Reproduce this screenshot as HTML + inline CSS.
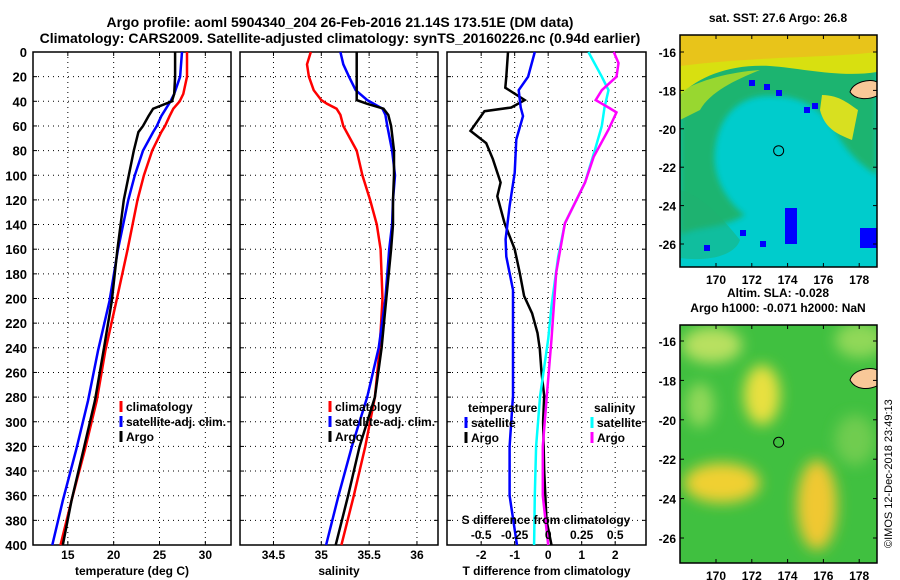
<!DOCTYPE html>
<html><head><meta charset="utf-8"><style>
body{margin:0;background:#fff;}
svg{display:block;font-family:"Liberation Sans",sans-serif;font-weight:bold;}
</style></head><body>
<svg id="c" width="900" height="580" xmlns="http://www.w3.org/2000/svg">
<defs>
<filter id="bl" x="-50%" y="-50%" width="200%" height="200%"><feGaussianBlur stdDeviation="7"/></filter>
<filter id="bl2"><feGaussianBlur stdDeviation="3"/></filter>
<clipPath id="m1c"><rect x="680" y="35" width="197" height="232"/></clipPath>
<clipPath id="m2c"><rect x="680" y="325" width="197" height="238"/></clipPath>
</defs>
<text x="340" y="27" font-size="14" text-anchor="middle">Argo profile: aoml 5904340_204 26-Feb-2016 21.14S 173.51E (DM data)</text>
<text x="340" y="43" font-size="14" text-anchor="middle">Climatology: CARS2009. Satellite-adjusted climatology: synTS_20160226.nc (0.94d earlier)</text>
<g id="plots"></g>
<g id="maps"></g>
<text transform="translate(892,548) rotate(-90)" font-size="11" font-weight="normal">©IMOS 12-Dec-2018 23:49:13</text>
</svg>
<script>
const depthTicks=[0,20,40,60,80,100,120,140,160,180,200,220,240,260,280,300,320,340,360,380,400];
// temperature
const tD=[0,20,34,40,46,52,60,65,80,100,120,161,202,242,283,323,364,400];
const tClim=[28.0,28.0,27.6,27.2,26.5,26.1,25.6,25.2,24.2,23.3,22.6,21.5,20.3,19.1,18.15,16.85,15.4,14.2];
const tSat=[27.45,27.25,26.6,26.2,25.7,25.2,24.7,24.3,23.2,22.3,21.6,20.45,19.55,18.3,17.2,15.9,14.45,13.3];
const tArgo=[26.7,26.7,26.6,26.35,24.3,23.8,23.2,22.7,22.2,21.65,21.1,20.4,19.8,18.9,17.95,16.7,15.4,14.45];
// salinity
const sD=[0,10,20,31,39,42,46,51,60,80,100,120,140,160,200,240,280,320,360,400];
const sClim=[34.89,34.85,34.87,34.92,35.0,35.06,35.16,35.2,35.23,35.37,35.43,35.51,35.58,35.62,35.64,35.61,35.56,35.46,35.34,35.21];
const sSat=[35.2,35.23,35.29,35.36,35.48,35.55,35.64,35.67,35.69,35.74,35.77,35.75,35.74,35.71,35.67,35.6,35.48,35.32,35.18,35.05];
const sArgo=[35.37,35.37,35.37,35.37,35.37,35.48,35.65,35.7,35.73,35.76,35.76,35.75,35.75,35.73,35.68,35.63,35.56,35.4,35.28,35.15];
// differences
const dTArgoD=[0,20,29,39,45,48,64,74,87,106,117,139,160,179,198,212,228,241,260,279,300,340,380,400];
const dTArgo=[-1.2,-1.25,-1.28,-0.7,-1.1,-1.9,-2.32,-1.85,-1.65,-1.42,-1.52,-1.3,-1.0,-0.85,-0.72,-0.48,-0.32,-0.25,-0.2,-0.12,-0.15,-0.12,-0.05,0.1];
const dTSatD=[0,20,31,45,52,71,98,125,152,166,193,233,279,320,360,400];
const dTSat=[-0.4,-0.6,-0.88,-0.82,-0.75,-0.95,-1.0,-1.15,-1.27,-1.25,-1.05,-1.05,-1.05,-1.15,-1.15,-0.93];
const dSSatD=[0,20,31,45,60,79,106,139,166,206,233,279,320,360,400];
const dSSat=[0.3,0.4,0.45,0.42,0.40,0.35,0.275,0.125,0.075,0.025,0,-0.06,-0.09,-0.1,-0.105];
const dSArgoD=[0,9,20,31,39,45,49,63,85,106,139,179,233,279,320,360,400];
const dSArgo=[0.49,0.525,0.51,0.4,0.355,0.45,0.51,0.45,0.34,0.275,0.125,0.06,0.025,-0.01,-0.04,-0.04,0.0];

const NS="http://www.w3.org/2000/svg";
const g=document.getElementById('plots');
function el(t,a,p){const e=document.createElementNS(NS,t);for(const k in a)e.setAttribute(k,a[k]);(p||g).appendChild(e);return e;}
const Y0=52,Y1=545;
const yS=d=>Y0+(d/400)*(Y1-Y0);
const panels=[
 {x0:33,x1:231,lo:11.2,hi:32.8,ticks:[15,20,25,30],lab:'temperature (deg C)',name:'temperature'},
 {x0:240,x1:438,lo:34.15,hi:36.22,ticks:[34.5,35,35.5,36],lab:'salinity',name:'salinity'},
 {x0:447,x1:646,lo:-3.02,hi:2.92,ticks:[-2,-1,0,1,2],lab:'T difference from climatology',name:'difference'}];
panels.forEach((p,i)=>{
 p.x=v=>p.x0+(v-p.lo)/(p.hi-p.lo)*(p.x1-p.x0);
 const pg=el('g',{});
 
 
 depthTicks.forEach(d=>{
  const l=el('line',{x1:p.x0,x2:p.x1,y1:yS(d),y2:yS(d),stroke:'#000','stroke-width':1,'stroke-dasharray':'1,4'},pg);
  
  
  el('line',{x1:p.x0,x2:p.x0+4,y1:yS(d),y2:yS(d),stroke:'#000'},pg);
  el('line',{x1:p.x1,x2:p.x1-4,y1:yS(d),y2:yS(d),stroke:'#000'},pg);
  if(i==0){const t=el('text',{x:p.x0-6,y:yS(d)+5,'font-size':13,'text-anchor':'end'},pg);t.textContent=d;
   }
 });
 p.ticks.forEach(v=>{
  const xx=p.x(v);
  const l=el('line',{x1:xx,x2:xx,y1:Y0,y2:Y1,stroke:'#000','stroke-dasharray':'1,4'},pg);
  
  
  el('line',{x1:xx,x2:xx,y1:Y1,y2:Y1-4,stroke:'#000'},pg);
  el('line',{x1:xx,x2:xx,y1:Y0,y2:Y0+4,stroke:'#000'},pg);
  const t=el('text',{x:xx,y:559,'font-size':12,'text-anchor':'middle'},pg);t.textContent=v;
  
 });
 const r=el('rect',{x:p.x0,y:Y0,width:p.x1-p.x0,height:Y1-Y0,fill:'none',stroke:'#000','stroke-width':1.5},pg);
 
 const t=el('text',{x:(p.x0+p.x1)/2,y:575,'font-size':12,'text-anchor':'middle'},pg);t.textContent=p.lab;
 
});
function line(p,ds,vs,col,name,scale){
 const pts=ds.map((d,i)=>p.x(vs[i]*(scale||1)).toFixed(1)+','+yS(d).toFixed(1)).join(' ');
 const e=el('polyline',{points:pts,fill:'none',stroke:col,'stroke-width':2.5});
 
 
}
const[P1,P2,P3]=panels;
line(P1,tD,tClim,'#f00','temp-climatology-line');
line(P1,tD,tSat,'#00f','temp-satellite-line');
line(P1,tD,tArgo,'#000','temp-argo-line');
line(P2,sD,sClim,'#f00','sal-climatology-line');
line(P2,sD,sSat,'#00f','sal-satellite-line');
line(P2,sD,sArgo,'#000','sal-argo-line');
line(P3,dTArgoD,dTArgo,'#000','tdiff-argo-line');
line(P3,dTSatD,dTSat,'#00f','tdiff-satellite-line');
line(P3,dSSatD,dSSat,'#0ff','sdiff-satellite-line',4);
line(P3,dSArgoD,dSArgo,'#f0f','sdiff-argo-line',4);
const sTicks=[-0.5,-0.25,0,0.25,0.5];
const sg=el('g',{});


const st=el('text',{x:546,y:524,'font-size':12,'text-anchor':'middle'},sg);st.textContent='S difference from climatology';
sTicks.forEach(v=>{const t=el('text',{x:P3.x(v*4),y:539,'font-size':12,'text-anchor':'middle'},sg);t.textContent=v;
 });
function legend(x,y,items,title){
 const lg=el('g',{});
 
 
 if(title){const t=el('text',{x:x,y:y,'font-size':12},lg);t.textContent=title;y+=15;}
 items.forEach(([c,s])=>{
  el('line',{x1:x-2,x2:x-2,y1:y-10,y2:y+1,stroke:c,'stroke-width':3},lg);
  const t=el('text',{x:x+3,y:y,'font-size':12},lg);t.textContent=s;
  
  y+=15;});
}
legend(123,411,[['#f00','climatology'],['#00f','satellite-adj. clim.'],['#000','Argo']]);
legend(332,411,[['#f00','climatology'],['#00f','satellite-adj. clim.'],['#000','Argo']]);
legend(468,412,[['#00f','satellite'],['#000','Argo']],'temperature');
legend(594,412,[['#0ff','satellite'],['#f0f','Argo']],'salinity');

// maps
const mg=document.getElementById('maps');
function m(t,a,p){return el(t,a,p||mg);}
const lonTicks=[170,172,174,176,178];
const latTicks=[-16,-18,-20,-22,-24,-26];
const lonX=l=>716+(l-170)*17.9;
function mapFrame(y0,h,lat16,lat26,title1,title2,name){
 const fg=m('g',{});
 
 
 const ly=l=>lat16+(-16-l)/10*(lat26-lat16);
 m('rect',{x:680,y:y0,width:197,height:h,fill:'none',stroke:'#000','stroke-width':1.5},fg);
 lonTicks.forEach(l=>{m('line',{x1:lonX(l),x2:lonX(l),y1:y0,y2:y0+4,stroke:'#000'},fg);m('line',{x1:lonX(l),x2:lonX(l),y1:y0+h,y2:y0+h-4,stroke:'#000'},fg);
  const t=m('text',{x:lonX(l),y:y0+h+17,'font-size':12,'text-anchor':'middle'},fg);t.textContent=l;});
 latTicks.forEach(l=>{m('line',{x1:680,x2:684,y1:ly(l),y2:ly(l),stroke:'#000'},fg);m('line',{x1:877,x2:873,y1:ly(l),y2:ly(l),stroke:'#000'},fg);
  const t=m('text',{x:676,y:ly(l)+5,'font-size':12,'text-anchor':'end'},fg);t.textContent=l;});
 const t=m('text',{x:778,y:title2?y0-28:y0-13,'font-size':12,'text-anchor':'middle'},fg);t.textContent=title1;
 if(title2){const t2=m('text',{x:778,y:y0-13,'font-size':12,'text-anchor':'middle'},fg);t2.textContent=title2;}
 return ly;
}
// map1 SST
const g1=m('g',{'clip-path':'url(#m1c)'});


m('rect',{x:680,y:35,width:197,height:232,fill:'#00cccc'},g1);
m('path',{d:'M680,35 H877 V175 C860,165 845,150 835,130 C815,100 790,95 765,96 C735,98 718,120 715,150 C712,175 725,200 745,215 C720,230 700,225 680,235 Z',fill:'#20b060',filter:'url(#bl2)',opacity:0.85},g1);
m('path',{d:'M680,190 C700,195 720,215 740,240 C735,255 710,262 680,258Z',fill:'#20b070',opacity:0.5},g1);
m('path',{d:'M680,35 H877 V72 C840,78 800,68 770,66 C730,64 700,76 680,95 Z',fill:'#d8e010'},g1);
m('path',{d:'M680,35 H877 V52 C830,58 760,56 680,66 Z',fill:'#f0b820',opacity:0.7},g1);
m('path',{d:'M680,92 C700,80 730,72 760,70 C735,80 710,92 700,110 L680,120Z',fill:'#b8e020',opacity:0.8},g1);
m('path',{d:'M822,95 C840,95 850,105 858,110 L852,140 C840,135 825,130 820,110Z',fill:'#d8e020'},g1);
[[749,80],[764,84],[776,90],[804,107],[812,103],[704,245],[740,230],[760,241],[868,228],[874,238]].forEach(([x,y])=>m('rect',{x:x,y:y,width:6,height:6,fill:'#00f'},g1));
m('rect',{x:785,y:208,width:12,height:36,fill:'#00f'},g1);
m('rect',{x:860,y:228,width:17,height:20,fill:'#00f'},g1);
m('path',{d:'M850,92 C853,82 870,78 877,82 L877,96 C868,100 855,100 850,92 Z',fill:'#f8c898',stroke:'#000'},g1);
const ly1=mapFrame(35,232,52,244,'sat. SST: 27.6  Argo: 26.8','', 'sst-map-frame');
m('circle',{cx:lonX(173.5),cy:ly1(-21.14),r:5,fill:'none',stroke:'#000'});
// map2 SLA
const g2=m('g',{'clip-path':'url(#m2c)'});


m('rect',{x:680,y:325,width:197,height:238,fill:'#40c040'},g2);
[[712,345,30,18,'#b8e060'],[762,395,18,30,'#e8e040'],[722,483,38,20,'#f0d030'],[817,505,20,45,'#f0c830'],[700,405,14,22,'#90d858'],[860,340,25,18,'#90d858'],[855,440,20,25,'#70cc50']].forEach(([x,y,rx,ry,c])=>{
 m('ellipse',{cx:x,cy:y,rx:rx,ry:ry,fill:c,filter:'url(#bl)'},g2);});
m('path',{d:'M850,380 C853,370 870,366 877,370 L877,386 C868,390 855,390 850,380 Z',fill:'#f8c898',stroke:'#000'},g2);
const ly2=mapFrame(325,238,341,538,'Altim. SLA: -0.028','Argo h1000: -0.071 h2000: NaN','sla-map-frame');
m('circle',{cx:lonX(173.5),cy:ly2(-21.14),r:5,fill:'none',stroke:'#000'});
</script>
</body></html>
